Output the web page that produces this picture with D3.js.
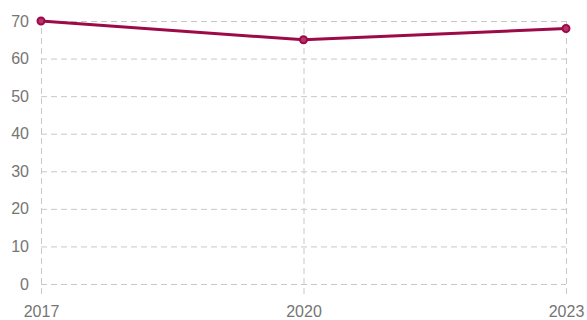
<!DOCTYPE html>
<html>
<head>
<meta charset="utf-8">
<script src="https://cdn.jsdelivr.net/npm/d3@7"></script>
<style>
  body { margin: 0; background: #fff; }
  svg { display: block; font-family: Roboto, "Noto Sans", sans-serif; }
</style>
</head>
<body>
<div id="chart"></div>
<script>
var years = ["2017", "2020", "2023"];
var values = [70, 65, 68];
var yTicks = [0, 10, 20, 30, 40, 50, 60, 70];

var width = 587, height = 320;
var plotLeft = 41, plotRight = 566, plotTop = 21, plotBottom = 284;

var svg = d3.select("#chart").append("svg")
    .attr("width", width)
    .attr("height", height);

var x = d3.scalePoint().domain(years).range([plotLeft, plotRight]);
var y = d3.scaleLinear().domain([0, 70]).range([plotBottom, plotTop]);

// horizontal grid + y labels
var yAxis = svg.append("g")
    .attr("transform", "translate(" + plotLeft + ",0)")
    .call(d3.axisLeft(y).tickValues(yTicks).tickSize(-(plotRight - plotLeft)).tickPadding(12));
yAxis.select(".domain").remove();
yAxis.selectAll("line")
    .attr("stroke", "#c8c8c8")
    .attr("stroke-dasharray", "6,4");
yAxis.selectAll("text")
    .attr("fill", "#757575")
    .style("font-size", "16px");

// vertical grid + x labels
var xAxis = svg.append("g")
    .attr("transform", "translate(0," + (plotBottom + 10) + ")")
    .call(d3.axisBottom(x).tickSize(-(plotBottom + 10 - plotTop)).tickPadding(12));
xAxis.select(".domain").remove();
xAxis.selectAll("line")
    .attr("stroke", "#c8c8c8")
    .attr("stroke-dasharray", "6,4");
xAxis.selectAll("text")
    .attr("fill", "#757575")
    .style("font-size", "16px");

var data = years.map(function (d, i) { return {year: d, value: values[i]}; });

var line = d3.line()
    .x(function (d) { return x(d.year); })
    .y(function (d) { return y(d.value); });

svg.append("path")
    .datum(data)
    .attr("fill", "none")
    .attr("stroke", "#9c0a47")
    .attr("stroke-width", 3)
    .attr("d", line);

svg.selectAll(".pt")
    .data(data)
    .enter().append("circle")
    .attr("class", "pt")
    .attr("cx", function (d) { return x(d.year); })
    .attr("cy", function (d) { return y(d.value); })
    .attr("r", 3.5)
    .attr("fill", "#b8336a")
    .attr("stroke", "#9c0a47")
    .attr("stroke-width", 2);
</script>
</body>
</html>
